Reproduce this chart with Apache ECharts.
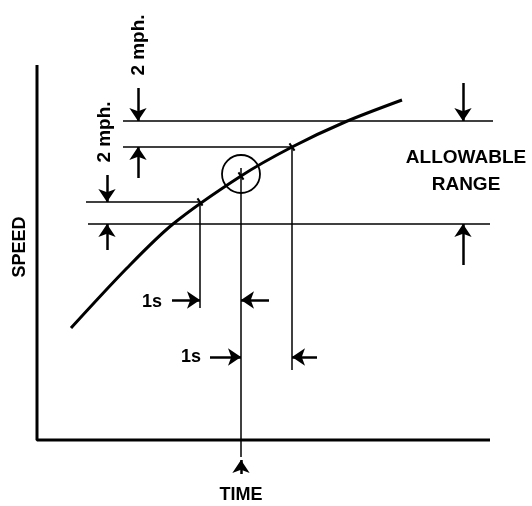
<!DOCTYPE html>
<html><head><meta charset="utf-8">
<script src="https://cdn.jsdelivr.net/npm/echarts@6/dist/echarts.min.js"></script>
<style>html,body{margin:0;padding:0;background:#fff}#c{width:532px;height:506px}</style>
</head><body><div id="c"></div>
<script>
// Diagram units: time (x) and speed (y), origin at the corner of the axes
const timeRange = [-37, 495];
const speedRange = [-66, 440];

// speed-vs-time curve
const curveTime  = [34, 90, 136, 204, 255, 308, 365];
const curveSpeed = [112, 172, 216, 264, 293, 318, 340];

// chart axes (L shape)
const axisTime  = [0, 0, 453];
const axisSpeed = [375, 0, 0];

// horizontal reference lines: [timeStart, timeEnd, speed]
const hLines = [[86, 456, 319], [86, 255, 293], [49, 163, 238], [51, 453, 216]];
// vertical reference lines: [time, speedStart, speedEnd]
const vLines = [[163, 238, 132], [204, 272, -17], [255, 292, 70]];

// arrows: [timeFrom, speedFrom, timeTo, speedTo]
const arrows = [
  [101, 352, 101, 319], [101, 262, 101, 293],
  [70, 265, 70, 238], [70, 190, 70, 216],
  [426, 357, 426, 319], [426, 175, 426, 216],
  [135, 140, 163, 140], [232, 140, 204, 140],
  [173, 83, 204, 83], [280, 83, 255, 83],
  [204, -34, 204, -20]
];

// marked points on the curve and the circled point
const tickTime = [163, 255, 204];
const tickSpeed = [238, 293, 264];
const circleCenter = [204, 266];

// text labels
const labelText  = ['2 mph.', '2 mph.', 'SPEED', 'TIME', '1s', '1s', 'ALLOWABLE', 'RANGE'];
const labelTime  = [102, 68, -17, 204, 115, 154, 429, 429];
const labelSpeed = [395, 308, 193, -55, 138, 83, 282, 255];
const labelRot   = [90, 90, 90, 0, 0, 0, 0, 0];

const chart = echarts.init(document.getElementById('c'));
const FONT = '"Liberation Sans", Arial, sans-serif';

const segs = [];
hLines.forEach(h => segs.push({coords: [[h[0], h[2]], [h[1], h[2]]]}));
vLines.forEach(v => segs.push({coords: [[v[0], v[1]], [v[0], v[2]]]}));

chart.setOption({
  animation: false,
  grid: {left: 0, right: 0, top: 0, bottom: 0},
  xAxis: {type: 'value', min: timeRange[0], max: timeRange[1], show: false},
  yAxis: {type: 'value', min: speedRange[0], max: speedRange[1], show: false},
  series: [
    {
      type: 'line', data: axisTime.map((t, i) => [t, axisSpeed[i]]),
      symbol: 'none', lineStyle: {color: '#000', width: 3}
    },
    {
      type: 'line', data: curveTime.map((t, i) => [t, curveSpeed[i]]),
      smooth: 0.3, symbol: 'none', lineStyle: {color: '#000', width: 3}
    },
    {
      type: 'lines', coordinateSystem: 'cartesian2d', data: segs,
      symbol: 'none', lineStyle: {color: '#000', width: 1.5, opacity: 1}
    },
    {
      type: 'lines', coordinateSystem: 'cartesian2d',
      data: arrows.map(a => ({coords: [[a[0], a[1]], [a[2], a[3]]]})),
      symbol: ['none', 'arrow'], symbolSize: [7, 13],
      lineStyle: {color: '#000', width: 2.5, opacity: 1}
    },
    {
      type: 'scatter', data: tickTime.map((t, i) => [t, tickSpeed[i]]),
      symbol: 'rect', symbolSize: [2, 9], symbolRotate: 35,
      itemStyle: {color: '#000', opacity: 1}
    },
    {
      type: 'scatter', data: [circleCenter], symbol: 'circle', symbolSize: 38,
      itemStyle: {color: 'rgba(0,0,0,0)', borderColor: '#000', borderWidth: 1.8, opacity: 1}
    },
    {
      type: 'scatter', symbolSize: 0, itemStyle: {opacity: 1},
      data: labelText.map((s, i) => ({
        value: [labelTime[i], labelSpeed[i]],
        label: {show: true, position: 'inside', formatter: s, rotate: labelRot[i],
          color: '#000', opacity: 1, fontFamily: FONT, fontWeight: 'bold',
          fontSize: (i < 2 ? 19 : (i >= 6 ? 19 : 18))}
      }))
    }
  ]
});
</script></body></html>
